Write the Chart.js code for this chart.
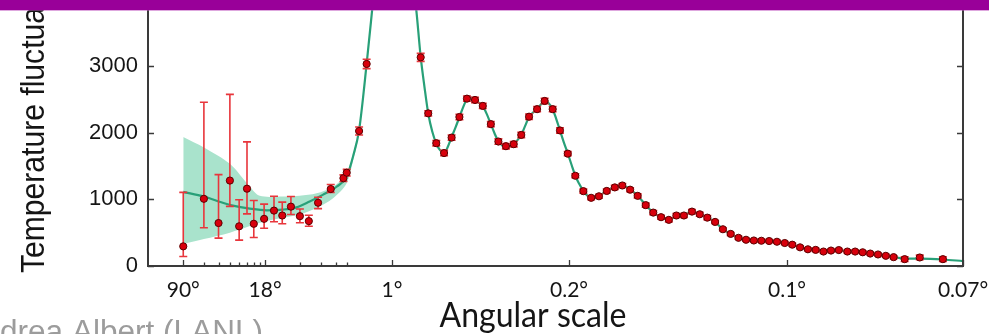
<!DOCTYPE html>
<html><head><meta charset="utf-8">
<script src="https://cdn.jsdelivr.net/npm/chart.js@4.4.1/dist/chart.umd.min.js"></script>
<style>html,body{margin:0;padding:0;background:#fff;overflow:hidden}canvas{display:block}</style>
</head><body>
<canvas id="c" width="989" height="334"></canvas>
<script>
// ---------- data (multipole ell, temperature power D_ell in uK^2) ----------
const ELL = [2,3,4,5,6,7,8,9.8,11.9,14,16.6,19.8,23.6,28.3,36.3,46.6,49.7,98,128,
  343,373,405,436,466,497,527,559,590,622,652,682,713,743,774,806,836,868,897,928,
  958,990,1021,1052,1083,1115,1145,1176,1206,1238,1268,1299,1330,1360,1390,1422,1453,1483,1514,1545,
  1576,1607,1637,1668,1698,1729,1760,1791,1821,1852,1883,1914,1945,1975,2006,2040,2071,2101,2131,2162,
  2193,2224,2268,2328,2420];
const TT = [295,1009,645,1283,596,1161,634,708,832,758,891,748,674,950,1156,1319,1401,2027,3034,
  3133,2292,1844,1696,1928,2237,2513,2493,2404,2130,1869,1799,1829,1968,2242,2355,2478,2355,2035,1687,
  1355,1124,1024,1047,1127,1180,1209,1146,1053,914,802,733,693,758,758,817,777,726,662,552,
  482,423,394,383,379,375,364,345,320,280,251,242,217,232,239,217,217,206,187,173,
  153,133,103,128,103];
const ERR_PLUS = [811,1450,727,1294,398,703,350,221,215,201,152,107,89,82,68,50,50,60,70,
  60,40,40,40,40,40,40,40,40,40,40,40,40,40,40,40,40,40,40,30,
  30,30,30,30,30,30,30,30,30,30,30,30,30,30,30,30,30,30,22,22,
  22,22,22,22,22,22,22,22,22,22,22,22,22,22,22,22,22,22,22,22,
  22,22,35,35,35];
const ERR_MINUS = [152,434,226,388,207,379,206,142,168,124,118,99,78,89,50,50,50,60,70,
  60,40,40,40,40,40,40,40,40,40,40,40,40,40,40,40,40,40,40,30,
  30,30,30,30,30,30,30,30,30,30,30,30,30,30,30,30,30,30,22,22,
  22,22,22,22,22,22,22,22,22,22,22,22,22,22,22,22,22,22,22,22,
  22,22,35,35,35];

const MODEL_ELL = [2,3,4,5.3,7.4,10.3,14.2,18.5,24,31,40.7,49.5,
  75,98,128,150,175,200,225,250,275,300,324,343,358,373,389,405,420,436,451,466,482,497,512,527,543,559,575,590,
  606,622,637,652,667,682,697,713,728,743,758,774,790,806,821,836,852,868,882,897,912,928,943,958,974,990,
  1005,1021,1036,1052,1068,1083,1099,1115,1130,1145,1160,1176,1191,1206,1222,1238,1253,1268,1284,1299,1315,1330,
  1345,1360,1375,1390,1406,1422,1437,1453,1468,1483,1499,1514,1530,1545,1560,1576,1591,1607,1622,1637,1653,1668,
  1698,1729,1760,1791,1821,1852,1883,1914,1945,1975,2006,2040,2071,2101,2131,2162,2193,2224,2268,2330,2420,2500];
const MODEL_TT = [1114,1043,969,906,861,836,847,881,969,1068,1190,1338,
  1660,2040,3034,3850,4800,5450,5720,5600,5150,4550,3900,3140,2690,2290,2020,1840,1740,1695,1790,1935,2085,2235,2385,2505,2530,2495,2450,2400,
  2280,2130,1990,1870,1812,1797,1800,1830,1890,1970,2100,2240,2305,2360,2425,2475,2445,2355,2210,2035,1860,1690,1520,1355,1230,1125,
  1060,1028,1030,1050,1090,1128,1160,1182,1203,1208,1185,1148,1105,1052,988,915,855,802,762,732,708,700,
  720,748,760,768,790,808,798,778,754,724,695,660,605,553,515,481,450,424,405,393,386,382,
  378,374,364,345,320,283,253,240,232,231,232,222,213,203,188,172,154,135,110,110,98,74];

const BAND_ELL = [2,3,5,7.4,9,14.2,19.7,27.5,38,49.5,75,98,128,150];
const BAND_LO  = [330,404,501,600,650,723,773,870,1018,1239,1600,1985,2990,3800];
const BAND_HI  = [1938,1780,1534,1190,1053,1043,1053,1091,1190,1386,1700,2070,3080,3900];

const X_TICKS = [2,10,229,933,1800,2500];
const X_TICK_LABELS = ['90°','18°','1°','0.2°','0.1°','0.07°'];
const X_MINOR = [3,4,5,6,7,8,9,20,30,40,50];
const Y_TICKS = [0,1000,2000,3000];
const Y_TICK_LABELS = ['0','1000','2000','3000'];

// ---------- axis configuration ----------
const X_MIN = 1, X_SWITCH = 50, X_MAX = 2500, LOG_FRACTION = 0.2442;
const Y_MAX = 3919;

class HybridScale extends Chart.LinearScale {
  static id = 'hybrid';
  _frac(v) {
    if (v <= X_SWITCH) return LOG_FRACTION * Math.log(v / X_MIN) / Math.log(X_SWITCH / X_MIN);
    return LOG_FRACTION + (1 - LOG_FRACTION) * (v - X_SWITCH) / (X_MAX - X_SWITCH);
  }
  getPixelForValue(v) { return this.left + this.width * this._frac(v); }
  getValueForPixel(p) {
    const f = (p - this.left) / this.width;
    if (f <= LOG_FRACTION) return X_MIN * Math.pow(X_SWITCH / X_MIN, f / LOG_FRACTION);
    return X_SWITCH + (f - LOG_FRACTION) / (1 - LOG_FRACTION) * (X_MAX - X_SWITCH);
  }
  buildTicks() { return X_TICKS.map(v => ({ value: v })); }
}
Chart.register(HybridScale);

function fitText(ctx, text, x, y, target, align) {
  const w = ctx.measureText(text).width;
  const k = target / w;
  ctx.save();
  ctx.translate(x, y);
  ctx.scale(k, 1);
  ctx.textAlign = 'left';
  const off = align === 'center' ? -w / 2 : 0;
  ctx.fillText(text, off, 0);
  ctx.restore();
}

const decor = {
  id: 'decor',
  beforeDatasetDraw(chart, args) {
    if (args.index !== 0) return;
    const { ctx, chartArea: a } = chart;
    const xs = chart.scales.x, ys = chart.scales.y;
    ctx.save();
    ctx.beginPath(); ctx.rect(a.left, a.top, a.right - a.left, a.bottom - a.top); ctx.clip();
    ctx.strokeStyle = '#e8363c';
    ctx.lineWidth = 1.6;
    ELL.forEach((l, i) => {
      const x = xs.getPixelForValue(l);
      const y1 = ys.getPixelForValue(TT[i] + ERR_PLUS[i]);
      const y2 = ys.getPixelForValue(TT[i] - ERR_MINUS[i]);
      ctx.beginPath();
      ctx.moveTo(x, y1); ctx.lineTo(x, y2);
      ctx.moveTo(x - 4, y1); ctx.lineTo(x + 4, y1);
      ctx.moveTo(x - 4, y2); ctx.lineTo(x + 4, y2);
      ctx.stroke();
    });
    ctx.restore();
  },
  afterDraw(chart) {
    const { ctx, chartArea: a } = chart;
    const xs = chart.scales.x, ys = chart.scales.y;
    ctx.save();
    // frame
    ctx.strokeStyle = '#3a3a3a';
    ctx.lineWidth = 2;
    ctx.beginPath();
    ctx.moveTo(a.left, a.top); ctx.lineTo(a.left, a.bottom); ctx.lineTo(a.right, a.bottom); ctx.lineTo(a.right, a.top);
    ctx.stroke();
    // inward ticks
    ctx.lineWidth = 1.3;
    ctx.beginPath();
    Y_TICKS.forEach(v => {
      const y = Math.round(ys.getPixelForValue(v)) + 0.5;
      ctx.moveTo(a.left, y); ctx.lineTo(a.left + 6, y);
      ctx.moveTo(a.right, y); ctx.lineTo(a.right - 6, y);
    });
    X_TICKS.forEach(v => {
      const x = Math.round(xs.getPixelForValue(v)) + 0.5;
      ctx.moveTo(x, a.bottom); ctx.lineTo(x, a.bottom - 6);
    });
    X_MINOR.forEach(v => {
      const x = Math.round(xs.getPixelForValue(v)) + 0.5;
      ctx.moveTo(x, a.bottom); ctx.lineTo(x, a.bottom - 3.5);
    });
    ctx.stroke();

    // y axis title (rotated)
    ctx.fillStyle = '#151515';
    ctx.font = '33px "Liberation Sans", Arial, sans-serif';
    const part = ctx.measureText('Temperature fluctua').width;
    const k = 266 / part;
    ctx.save();
    ctx.translate(44, 273);
    ctx.rotate(-Math.PI / 2);
    ctx.scale(k, 1);
    ctx.textAlign = 'left'; ctx.textBaseline = 'alphabetic';
    ctx.fillText('Temperature fluctuations [µK²]', 0, 0);
    ctx.restore();

    // x axis title
    ctx.font = '35px Lato, "DejaVu Sans", sans-serif';
    ctx.textBaseline = 'alphabetic';
    fitText(ctx, 'Angular scale', 533, 327, 187, 'center');

    // author credit (clipped at left/bottom)
    ctx.fillStyle = '#9c9c9c';
    ctx.font = '31px "Liberation Sans", Arial, sans-serif';
    const wPart = ctx.measureText('drea Albert (LANL)').width;
    const ka = 263 / wPart;
    const wAn = ctx.measureText('An').width * ka;
    ctx.save();
    ctx.translate(-wAn, 342);
    ctx.scale(ka, 1);
    ctx.textAlign = 'left';
    ctx.fillText('Andrea Albert (LANL)', 0, 0);
    ctx.restore();

    // purple banner at top
    ctx.fillStyle = '#990099';
    ctx.fillRect(0, 0, chart.width, 10);
    ctx.fillStyle = 'rgba(190,80,190,0.5)';
    ctx.fillRect(0, 10, chart.width, 1);
    ctx.restore();
  }
};

const pts = (xs, ys) => xs.map((x, i) => ({ x: x, y: ys[i] }));

new Chart(document.getElementById('c'), {
  type: 'line',
  data: {
    datasets: [
      { label: 'Planck data', data: pts(ELL, TT), order: 0, showLine: false,
        pointRadius: 3.6, pointBackgroundColor: '#d8000c', pointBorderColor: '#5a0000', pointBorderWidth: 1 },
      { label: 'Model', data: pts(MODEL_ELL, MODEL_TT), order: 1, borderColor: '#28a078', borderWidth: 2.2,
        pointRadius: 0, cubicInterpolationMode: 'monotone', fill: false },
      { label: 'band low', data: pts(BAND_ELL, BAND_LO), order: 3, borderWidth: 0, borderColor: 'rgba(0,0,0,0)',
        pointRadius: 0, fill: false, tension: 0.3 },
      { label: 'band high', data: pts(BAND_ELL, BAND_HI), order: 2, borderWidth: 0, borderColor: 'rgba(0,0,0,0)',
        pointRadius: 0, fill: 2, backgroundColor: '#a9e3cc', tension: 0.3 }
    ]
  },
  options: {
    responsive: false,
    animation: false,
    events: [],
    layout: { padding: { left: 0, right: 26, top: 0, bottom: 0 } },
    plugins: { legend: { display: false }, tooltip: { enabled: false } },
    scales: {
      x: {
        type: 'hybrid', min: X_MIN, max: X_MAX,
        afterFit: s => { s.height = 68; s.paddingLeft = 0; s.paddingRight = 0; },
        grid: { display: false, drawTicks: false },
        border: { display: false },
        ticks: { autoSkip: false, maxRotation: 0, padding: 12, color: '#151515',
          font: { family: 'Lato', size: 21 },
          callback: (v, i) => X_TICK_LABELS[i] }
      },
      y: {
        min: 0, max: Y_MAX,
        afterFit: s => { s.width = 148; s.paddingTop = 0; s.paddingBottom = 0; },
        afterBuildTicks: s => { s.ticks = Y_TICKS.map(v => ({ value: v })); },
        grid: { display: false, drawTicks: false },
        border: { display: false },
        ticks: { padding: 10, color: '#151515', font: { family: 'Liberation Sans', size: 22 },
          callback: (v, i) => Y_TICK_LABELS[i] }
      }
    }
  },
  plugins: [decor]
});
</script>
</body></html>
